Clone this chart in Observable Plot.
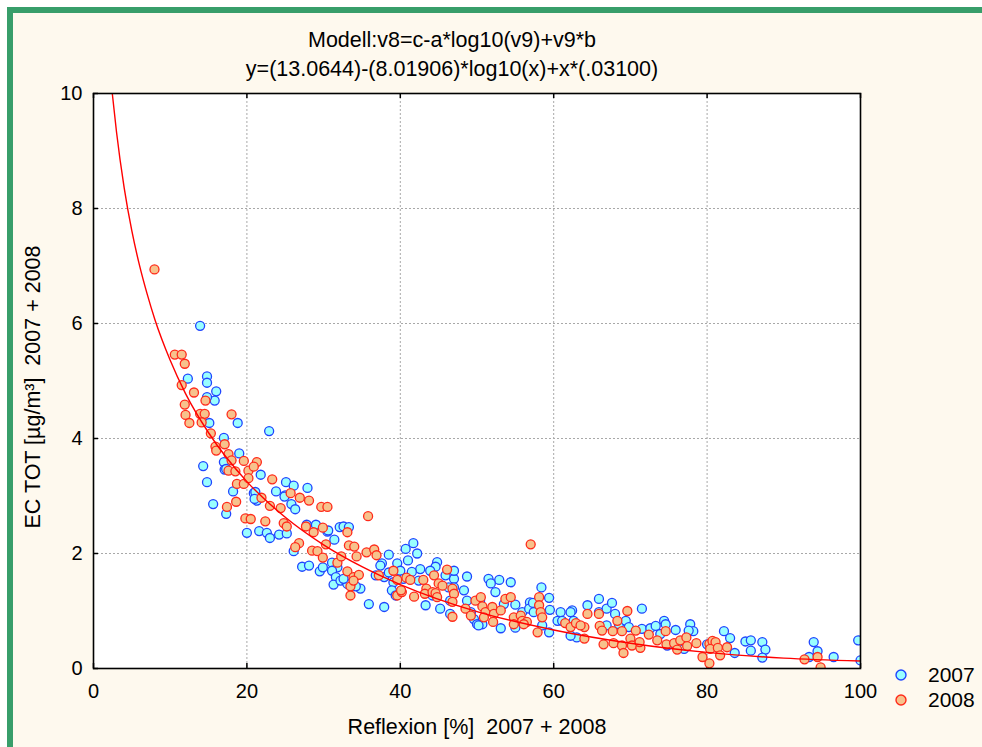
<!DOCTYPE html>
<html><head><meta charset="utf-8">
<script src="https://cdn.jsdelivr.net/npm/d3@7"></script>
<script src="https://cdn.jsdelivr.net/npm/@observablehq/plot@0.6"></script>
<style>
body{margin:0;background:#fff;}
#wrap{position:relative;width:982px;height:747px;overflow:hidden;font-family:"Liberation Sans",Arial,sans-serif;}
#bg{position:absolute;left:7px;top:7px;right:0;bottom:0;background:#fef9ee;}
#gt{position:absolute;left:7px;top:7px;right:0;height:6px;background:#389e6a;}
#gl{position:absolute;left:7px;top:7px;width:6px;bottom:0;background:#389e6a;}
#chart{position:absolute;left:0;top:0;}
.lg{position:absolute;left:890px;height:26px;font-size:21px;line-height:26px;color:#000;white-space:nowrap;}
.lg svg{position:absolute;left:0;top:0;}
.lg span{position:absolute;left:38px;top:0;}
</style></head>
<body>
<div id="wrap">
<div id="bg"></div><div id="gt"></div><div id="gl"></div>
<div id="chart"></div>
<div class="lg" style="top:662px"><svg width="24" height="26"><circle cx="11" cy="13" r="5" fill="#99ffff" stroke="#1f45ff" stroke-width="1.4"/></svg><span>2007</span></div>
<div class="lg" style="top:687px"><svg width="24" height="26"><circle cx="11" cy="13" r="5" fill="#f7c28c" stroke="#ff2a1a" stroke-width="1.4"/></svg><span>2008</span></div>
</div>
<script>
const titleLines = ["Modell:v8=c-a*log10(v9)+v9*b", "y=(13.0644)-(8.01906)*log10(x)+x*(.03100)"];
const xLabel = "Reflexion [%]\u00a0\u00a02007 + 2008";
const yLabel = "EC TOT [µg/m³]\u00a0\u00a02007 + 2008";
const xTicks = [0, 20, 40, 60, 80, 100];
const yTicks = [0, 2, 4, 6, 8, 10];

const reflex2007 = [13.9,12.3,14.8,14.8,16.0,15.8,14.8,15.1,18.8,22.9,17.0,19.0,17.0,14.3,17.1,21.8,14.8,25.1,26.1,27.9,23.8,18.2,20.9,25.0,17.3,15.6,17.3,21.1,21.3,21.0,20.0,21.6,22.6,23.0,24.2,25.2,24.9,25.8,26.3,27.8,29.0,30.5,32.1,31.4,26.1,27.2,28.1,29.5,29.9,31.1,31.8,31.1,31.6,31.3,30.6,32.6,33.3,32.2,33.1,34.8,35.9,37.9,36.8,37.9,37.6,38.5,39.6,40.0,40.7,41.7,42.2,41.0,42.6,44.8,44.6,43.3,45.2,46.5,47.0,47.0,48.7,51.5,52.9,54.4,48.3,48.7,49.2,49.6,50.7,53.1,52.4,53.5,55.0,55.9,56.9,58.4,59.4,59.5,59.4,60.5,60.9,62.4,62.6,63.0,64.4,65.9,39.1,40.4,32.6,34.2,37.4,38.5,41.5,42.4,43.9,45.9,47.0,46.3,46.5,50.0,44.2,38.9,39.4,50.4,50.2,55.0,55.2,56.8,57.3,57.4,58.5,61.1,62.2,62.2,65.9,66.9,67.6,68.0,68.5,51.8,69.4,71.5,69.8,71.5,72.6,73.3,74.4,74.6,75.9,77.8,78.2,77.6,74.8,77.0,80.0,82.2,83.0,83.6,85.0,85.7,85.7,87.2,87.6,87.2,93.9,94.4,93.3,96.5,99.7,100.0,66.9,73.9];
const ec2007 = [5.96,5.04,5.08,4.97,4.82,4.66,4.72,4.27,4.27,4.13,4.01,3.74,3.59,3.52,3.46,3.37,3.24,3.24,3.18,3.14,3.08,3.08,3.05,3.01,3.47,2.86,2.69,3.07,2.92,2.95,2.36,2.39,2.36,2.27,2.33,2.35,2.99,2.86,2.77,2.50,2.50,2.38,2.46,2.24,2.04,1.77,1.79,1.69,1.76,1.84,1.76,1.70,1.59,1.46,2.40,2.47,2.46,1.53,1.47,1.39,1.12,1.07,1.62,1.59,1.83,1.98,1.83,1.70,2.08,2.18,2.00,1.88,1.73,1.85,1.77,1.10,1.04,1.18,1.56,1.41,1.60,1.56,1.54,1.50,1.36,1.18,0.98,0.86,0.77,0.70,1.33,1.12,1.11,0.98,1.15,1.41,1.23,1.02,0.63,0.83,0.98,1.01,0.83,0.54,1.10,1.21,1.50,1.56,1.56,1.43,1.79,1.67,1.68,1.53,1.70,1.62,1.70,1.41,0.95,0.77,1.27,1.36,1.27,1.18,0.75,0.71,0.83,1.04,1.14,0.98,0.75,0.83,0.98,0.57,0.98,1.04,1.14,0.95,0.77,1.48,0.83,1.04,0.72,0.69,0.70,0.74,0.83,0.77,0.67,0.77,0.65,0.66,0.40,0.34,0.42,0.65,0.53,0.27,0.47,0.49,0.31,0.46,0.33,0.19,0.46,0.30,0.20,0.20,0.49,0.14,0.75,0.60];

const reflex2008 = [7.95,10.6,11.5,11.9,11.5,13.1,11.9,12.0,12.5,14.6,13.9,14.5,14.1,18.0,15.3,15.9,17.1,16.0,17.6,18.0,19.6,21.3,17.6,18.5,20.2,20.9,23.3,18.7,19.6,20.2,18.6,17.4,19.8,20.5,22.4,21.9,23.0,24.4,25.7,26.9,28.1,29.7,30.5,24.8,25.2,27.7,28.7,29.9,30.3,26.8,26.3,28.5,29.2,29.9,31.8,35.8,33.1,33.3,34.0,32.3,34.3,35.6,36.6,36.9,33.1,33.9,34.6,33.5,33.9,33.5,37.2,39.1,39.6,40.8,41.3,39.6,40.2,41.8,43.0,43.4,43.2,44.2,44.4,45.0,45.5,44.6,44.8,46.1,46.8,47.0,46.8,48.5,49.8,50.5,50.7,51.1,50.9,52.0,52.2,52.1,53.1,53.7,54.4,54.8,55.7,55.9,56.5,57.0,58.1,58.1,58.3,57.9,61.5,62.2,62.9,64.0,64.0,64.4,65.9,66.0,40.1,46.8,49.2,54.8,56.1,58.5,63.5,66.3,67.7,68.9,68.3,69.6,70.7,66.5,67.8,68.9,69.1,70.0,70.2,71.3,71.2,72.4,73.5,74.6,74.7,75.7,76.1,76.5,77.3,77.4,78.6,79.4,80.3,80.3,80.7,81.1,80.4,81.4,81.7,82.6,92.7,94.4,94.8];
const ec2008 = [6.94,5.46,5.46,5.30,4.93,4.80,4.59,4.41,4.27,4.66,4.43,4.43,4.28,4.42,4.09,3.86,3.90,3.79,3.73,3.62,3.61,3.59,3.44,3.43,3.44,3.51,3.29,3.21,3.21,3.31,2.90,2.81,2.61,2.60,2.56,2.97,2.83,2.79,3.05,2.97,2.92,2.81,2.81,2.53,2.47,2.47,2.37,2.45,2.16,2.18,2.11,2.05,2.04,1.93,1.84,2.65,2.37,2.14,2.12,1.95,1.95,2.02,2.07,1.97,1.69,1.59,1.63,1.43,1.53,1.27,1.62,1.70,1.54,1.58,1.54,1.27,1.33,1.25,1.54,1.39,1.30,1.33,1.62,1.48,1.44,1.31,1.24,1.72,1.39,1.30,0.90,1.04,1.18,1.24,1.08,0.98,0.89,1.07,0.95,0.81,1.01,1.21,1.24,0.89,0.92,0.83,0.81,2.16,1.24,1.10,0.98,0.63,0.79,0.72,0.79,0.72,0.52,0.95,0.95,0.74,1.36,1.16,0.92,0.77,0.77,0.89,0.75,0.66,0.65,0.65,0.83,1.00,0.66,0.42,0.44,0.40,0.27,0.52,0.40,0.36,0.46,0.59,0.49,0.65,0.42,0.44,0.33,0.49,0.54,0.39,0.44,0.20,0.09,0.43,0.48,0.46,0.34,0.36,0.23,0.37,0.16,0.20,0.02];

// fitted model curve
const fitX = [2.45,3,4,5,6,7,8,10,12,15,20,25,30,35,40,50,60,70,80,90,100];
const fitY = [10.0,9.33,8.36,7.61,7.01,6.51,6.07,5.36,4.78,4.10,3.25,2.63,2.15,1.77,1.46,0.99,0.67,0.44,0.28,0.18,0.13];

const pts2007 = reflex2007.map((x, i) => ({x, y: ec2007[i]}));
const pts2008 = reflex2008.map((x, i) => ({x, y: ec2008[i]}));
const fit = fitX.map((x, i) => ({x, y: fitY[i]}));

const W = 982, H = 747, ML = 93, MR = 122, MT = 93, MB = 79;
const innerW = W - ML - MR, innerH = H - MT - MB;

const chart = Plot.plot({
  width: W, height: H,
  marginLeft: ML, marginRight: MR, marginTop: MT, marginBottom: MB,
  style: {background: "transparent", fontFamily: "'Liberation Sans', Arial, sans-serif", fontSize: "20px", color: "#000", overflow: "visible"},
  x: {domain: [0, 100], label: null},
  y: {domain: [0, 10], label: null},
  marks: [
    Plot.frame({fill: "white", stroke: null}),
    Plot.gridX(xTicks.slice(1, -1), {stroke: "#a8a8a8", strokeOpacity: 1, strokeDasharray: "2,2"}),
    Plot.gridY(yTicks.slice(1, -1), {stroke: "#a8a8a8", strokeOpacity: 1, strokeDasharray: "2,2"}),
    Plot.axisX(xTicks, {tickSize: 0, tickPadding: 15, fontSize: 20, tickFormat: d => String(d)}),
    Plot.axisY(yTicks, {tickSize: 0, tickPadding: 11, fontSize: 20, tickFormat: d => String(d)}),
    Plot.tickX(xTicks, {x: d => d, insetTop: innerH - 5, stroke: "#000", strokeWidth: 1.5}),
    Plot.tickX(xTicks, {x: d => d, insetBottom: innerH - 5, stroke: "#000", strokeWidth: 1.5}),
    Plot.tickY(yTicks, {y: d => d, insetRight: innerW - 5, stroke: "#000", strokeWidth: 1.5}),
    Plot.dot(pts2007, {x: "x", y: "y", r: 4.5, fill: "#99ffff", stroke: "#1f45ff", strokeWidth: 1.3, clip: true}),
    Plot.dot(pts2008, {x: "x", y: "y", r: 4.5, fill: "#f7c28c", stroke: "#ff2a1a", strokeWidth: 1.3, clip: true}),
    Plot.line(fit, {x: "x", y: "y", stroke: "#ff0000", strokeWidth: 1.4, curve: "monotone-x", clip: true}),
    Plot.frame({stroke: "#000", strokeWidth: 1.6}),
    Plot.text([titleLines[0]], {text: d => d, frameAnchor: "top", lineAnchor: "middle", textAnchor: "middle", dx: -25, dy: -53, fontSize: 21.5}),
    Plot.text([titleLines[1]], {text: d => d, frameAnchor: "top", lineAnchor: "middle", textAnchor: "middle", dx: -25, dy: -24, fontSize: 21.5}),
    Plot.text([xLabel], {text: d => d, frameAnchor: "bottom", lineAnchor: "middle", textAnchor: "middle", dy: 59, fontSize: 21.5}),
    Plot.text([yLabel], {text: d => d, frameAnchor: "left", lineAnchor: "middle", textAnchor: "middle", dx: -60, dy: 6, rotate: -90, fontSize: 21.5})
  ]
});
document.getElementById("chart").appendChild(chart);
</script>
</body></html>
